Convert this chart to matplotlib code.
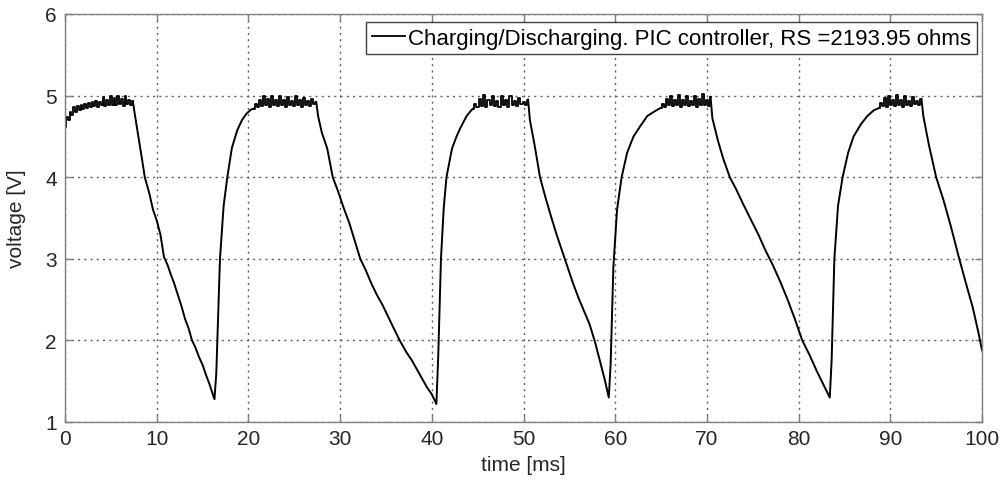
import numpy as np
import matplotlib
matplotlib.use("Agg")
import matplotlib.pyplot as plt

plt.rcParams['font.family'] = ['Liberation Sans', 'DejaVu Sans']

# ---- data ----
# plateau voltages (noisy, read by eye), each plateau spans [start, end] ms
plat1_v = [4.62,4.74,4.70,4.80,4.76,4.86,4.80,4.87,4.82,4.88,4.84,4.90,4.85,4.91,4.86,4.92,4.87,4.93,4.86,4.92,
           4.88,4.98,4.87,4.95,4.88,5.00,4.89,4.97,4.88,5.00,4.90,4.96,4.87,5.00,4.90,4.95,4.88,4.93]
plat2_v = [4.84,4.90,4.86,4.95,4.87,5.00,4.88,4.96,4.86,4.99,4.89,4.94,4.87,5.00,4.88,4.95,4.86,4.98,4.89,4.93,
           4.87,4.99,4.88,4.94,4.86,4.97,4.89,4.93,4.87,4.96,4.90,4.92]
plat3_v = [4.84,4.90,4.86,4.96,4.87,5.01,4.86,4.95,4.88,5.00,4.87,4.93,4.86,4.99,4.88,4.94,4.86,5.00,4.89,4.93,
           4.87,4.97,4.90,4.92,4.88,4.95]
plat4_v = [4.85,4.90,4.86,4.96,4.88,5.00,4.87,4.94,4.89,5.01,4.86,4.95,4.88,4.99,4.87,4.93,4.89,5.00,4.86,4.96,
           4.88,5.02,4.89,4.94,4.87,4.98]
plat5_v = [4.85,4.91,4.87,4.97,4.86,5.00,4.88,4.94,4.87,5.01,4.89,4.95,4.86,4.99,4.88,4.93,4.87,4.98,4.90,4.93,
           4.88,4.96]
plat_span = [(0.0, 7.4), (20.6, 27.4), (44.5, 50.5), (65.0, 70.4), (88.8, 93.4)]

# discharge / charge transients: (time ms, voltage V)
tr1_t = [7.6, 8.0, 8.4, 8.7, 9.2, 9.6, 10.0, 10.4, 10.8, 11.2, 11.5, 11.9, 12.3, 12.7, 13.1, 13.5, 13.85, 14.2, 14.6, 15.0, 15.4, 15.8, 16.0, 16.3,
         16.5, 16.9, 17.3, 17.7, 18.2, 18.8, 19.3, 19.8, 20.3]
tr1_v = [4.78, 4.50, 4.22, 4.00, 3.80, 3.60, 3.47, 3.30, 3.02, 2.92, 2.82, 2.70, 2.56, 2.42, 2.26, 2.14, 2.00, 1.92, 1.80, 1.70, 1.57, 1.45, 1.38, 1.28,
         1.60, 3.00, 3.65, 4.00, 4.36, 4.58, 4.70, 4.78, 4.83]
tr2_t = [27.6, 28.0, 28.6, 29.2, 29.8, 30.4, 31.0, 31.6, 32.2, 32.8, 33.4, 34.0, 34.6, 35.2, 35.8, 36.5, 37.2, 37.8, 38.4, 39.0, 39.5, 40.0, 40.5,
         40.7, 41.0, 41.3, 41.6, 42.2, 42.7, 43.1, 43.8, 44.3]
tr2_v = [4.75, 4.55, 4.35, 4.00, 3.82, 3.62, 3.44, 3.22, 3.00, 2.86, 2.70, 2.56, 2.44, 2.30, 2.16, 2.00, 1.86, 1.76, 1.64, 1.52, 1.42, 1.34, 1.22,
         1.80, 3.00, 3.62, 4.00, 4.35, 4.50, 4.60, 4.75, 4.82]
tr3_t = [50.7, 51.2, 51.8, 52.4, 53.0, 53.6, 54.2, 54.8, 55.4, 56.0, 56.6, 57.2, 57.8, 58.4, 58.9, 59.3,
         59.5, 59.8, 60.2, 60.7, 61.3, 62.0, 62.7, 63.5, 64.2, 64.8]
tr3_v = [4.70, 4.40, 4.00, 3.75, 3.52, 3.30, 3.10, 2.90, 2.70, 2.52, 2.36, 2.20, 1.98, 1.72, 1.50, 1.30,
         1.70, 2.90, 3.60, 4.00, 4.30, 4.50, 4.62, 4.75, 4.80, 4.84]
tr4_t = [70.6, 71.2, 71.8, 72.5, 73.2, 74.0, 74.8, 75.6, 76.4, 77.2, 78.0, 78.8, 79.6, 80.4, 81.2, 82.0, 82.7, 83.4,
         83.6, 83.9, 84.3, 84.8, 85.4, 86.0, 86.8, 87.5, 88.2]
tr4_v = [4.72, 4.45, 4.22, 4.00, 3.85, 3.66, 3.48, 3.30, 3.10, 2.92, 2.72, 2.50, 2.26, 2.00, 1.82, 1.62, 1.46, 1.30,
         1.75, 3.00, 3.65, 4.00, 4.30, 4.50, 4.65, 4.75, 4.82]
tr5_t = [93.6, 94.2, 95.0, 95.8, 96.6, 97.4, 98.2, 99.0, 99.6, 100.0]
tr5_v = [4.75, 4.40, 4.00, 3.72, 3.40, 3.05, 2.72, 2.40, 2.10, 1.88]

legend_label = 'Charging/Discharging. PIC controller, RS =2193.95 ohms'

fig = plt.figure(figsize=(10.06, 4.81), dpi=100)
ax = fig.add_axes([65/1006, 1-423/481, (982-65)/1006, (423-15)/481])

plats = [plat1_v, plat2_v, plat3_v, plat4_v, plat5_v]
trs = [(tr1_t, tr1_v), (tr2_t, tr2_v), (tr3_t, tr3_v), (tr4_t, tr4_v), (tr5_t, tr5_v)]
for i, ((a, b), pv, (tt, tv)) in enumerate(zip(plat_span, plats, trs)):
    pt = np.linspace(a, b, len(pv))
    # noisy quantised plateau drawn as steps
    ax.plot(pt, pv, color='black', lw=1.3, drawstyle='steps-mid',
            label=legend_label if i == 0 else None)
    # transient joined to the end of the plateau and, if any, the next one
    seg_t = [pt[-1]] + list(tt)
    seg_v = [pv[-1]] + list(tv)
    if i + 1 < len(plats):
        seg_t.append(plat_span[i + 1][0])
        seg_v.append(plats[i + 1][0])
    ax.plot(seg_t, seg_v, color='black', lw=1.4)

ax.set_xlim(0, 100)
ax.set_ylim(1, 6)
ax.set_xticks(range(0, 101, 10))
ax.set_yticks(range(1, 7))
ax.grid(True, linestyle=(0, (1.5, 3)), color='#606060', lw=1.0)
for s in ax.spines.values():
    s.set_color('#808080')
    s.set_linewidth(1.0)
ax.tick_params(direction='in', length=5, width=1, color='#808080',
               top=True, right=True, labelsize=15, labelcolor='#262626')
ax.tick_params(axis='x', pad=5)
ax.tick_params(axis='y', pad=6)
ax.set_xlabel('time [ms]', fontsize=15, color='#262626', labelpad=5)
ax.set_ylabel('voltage [V]', fontsize=15, color='#262626', labelpad=14)

leg = ax.legend(loc='upper right', bbox_to_anchor=((977-65)/917, (423-23)/408),
                borderaxespad=0, fontsize=16, handlelength=1.5, handletextpad=0.15,
                borderpad=0.25, fancybox=False, framealpha=1)
leg.get_frame().set_edgecolor('#404040')
leg.get_frame().set_linewidth(1.0)

fig.savefig('out.png', dpi=100)
